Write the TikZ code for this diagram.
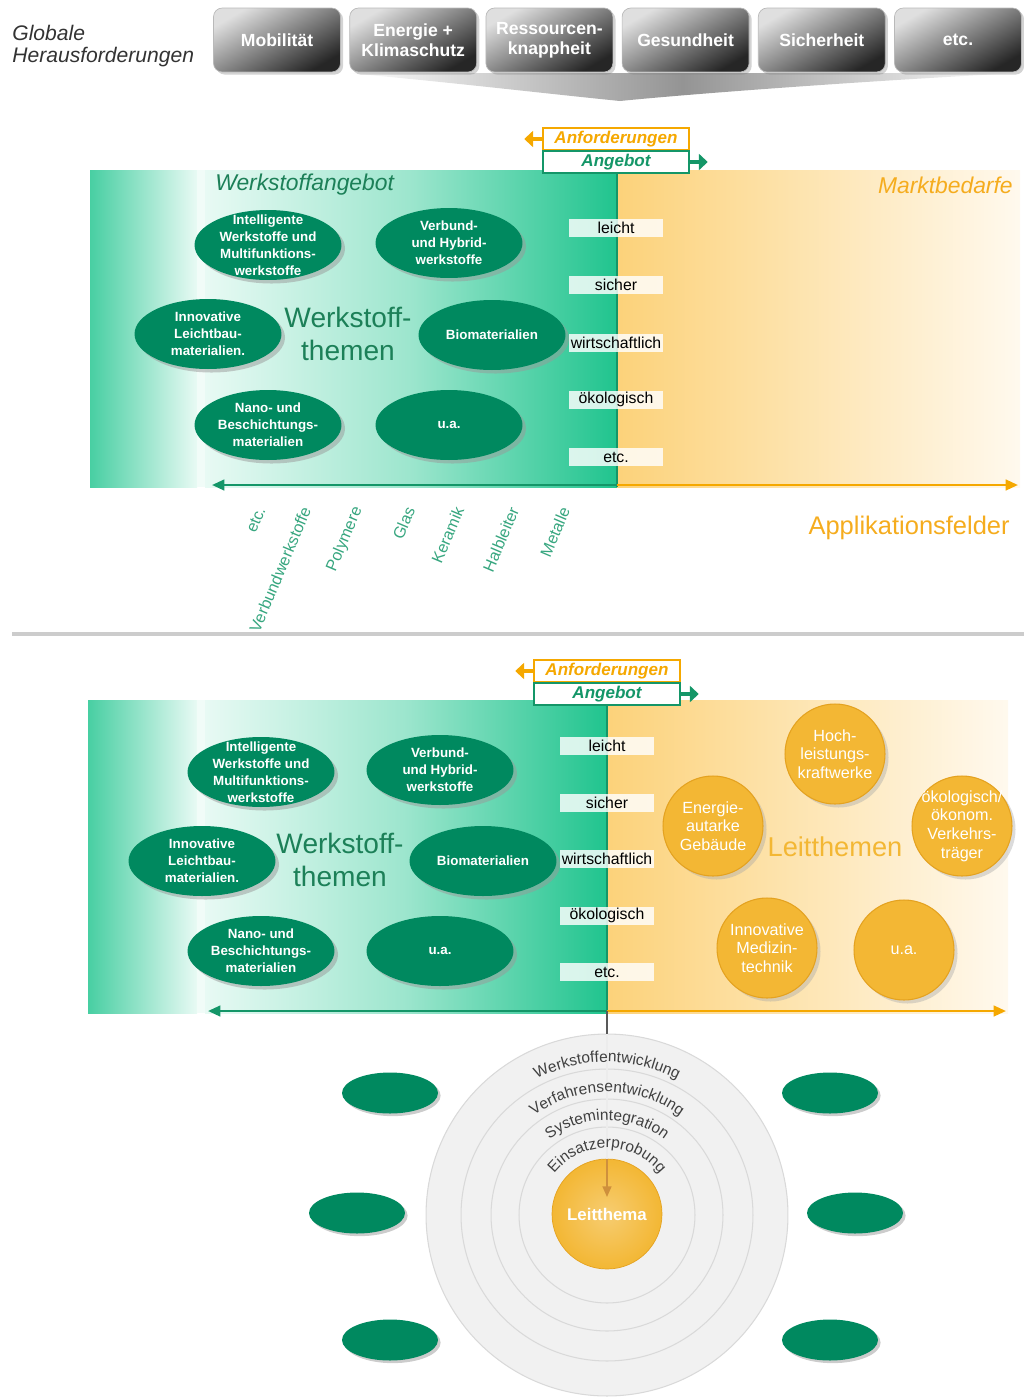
\documentclass[tikz,border=0pt]{standalone}
\usepackage{fontspec}
\setmainfont{Liberation Sans}
\usetikzlibrary{shapes.geometric,shadows,arrows.meta,decorations.text,positioning}

\definecolor{wsgreen}{RGB}{32,196,142}
\definecolor{wslight}{RGB}{232,250,244}
\definecolor{ellgreen}{RGB}{0,137,95}
\definecolor{axgreen}{RGB}{20,150,104}
\definecolor{txtgreen}{RGB}{28,128,88}
\definecolor{mborange}{RGB}{252,210,122}
\definecolor{mblight}{RGB}{255,249,238}
\definecolor{ltorange}{RGB}{243,183,52}
\definecolor{ltborder}{RGB}{228,162,32}
\definecolor{txtorange}{RGB}{245,172,30}
\definecolor{arrorange}{RGB}{245,168,0}

\newcommand{\fsz}[2]{\fontsize{#1}{#2}\selectfont}

\begin{document}
\begin{tikzpicture}[x=0.02cm, y=-0.02cm, >/.tip={Triangle[length=7pt, width=6pt]},
	challenge/.style={rounded corners=5pt, draw=gray!55, top color=gray!25, bottom color=black!85, shading angle=30, minimum width=2.54cm, minimum height=1.28cm, inner sep=1pt, text=white, align=center, font=\fsz{10}{11.5}\bfseries, drop shadow={shadow xshift=1.5pt, shadow yshift=-1.5pt, opacity=.35}},
	wsell/.style={ellipse, fill=ellgreen, minimum width=2.94cm, minimum height=1.4cm, inner sep=0, drop shadow={shadow xshift=2pt, shadow yshift=-2pt, fill=black!40, opacity=.5}},
	wstext/.style={text=white, align=center, font=\fsz{7.6}{9.6}\bfseries},
	smallell/.style={ellipse, fill=ellgreen, minimum width=1.92cm, minimum height=0.82cm, inner sep=0, drop shadow={shadow xshift=1.5pt, shadow yshift=-1.5pt, fill=black!40, opacity=.5}},
	crit/.style={fill=white, fill opacity=.82, text opacity=1, minimum width=1.88cm, minimum height=0.36cm, inner sep=0, font=\fsz{9}{10}},
	anfbox/.style={draw=arrorange, fill=white, line width=0.9pt, minimum width=2.92cm, minimum height=0.44cm, inner sep=0, text=arrorange, font=\fsz{9.7}{11}\bfseries\itshape},
	angbox/.style={anfbox, draw=axgreen, text=axgreen},
	leit/.style={circle, fill=ltorange, draw=ltborder, line width=0.6pt, minimum size=2cm, inner sep=0, drop shadow={shadow xshift=2pt, shadow yshift=-2pt, fill=black!35, opacity=.4}},
	leittext/.style={text=white, align=center, font=\fsz{9.2}{10.6}},
	ring/.style={circle, draw=gray!30, line width=0.6pt, fill=gray!11, inner sep=0},
	matlabel/.style={rotate=67, anchor=east, inner sep=1pt, text=axgreen!85!white, font=\fsz{9.2}{10}},
	themen/.style={align=center, text=txtgreen, font=\fsz{16}{19}},
	thickarrow/.style={line width=2.6pt, -{Triangle[length=5pt, width=9pt]}},
	axisarrow/.style={line width=1.4pt, ->},
	ringtext/.style={decorate, decoration={text along path, text align=center, text color=black!75}}
]
\useasboundingbox (0,0) rectangle (1024,1400);

\draw (12,46) node (gh) [anchor=west, inner sep=0, align=left, text=black!80, font=\fsz{12}{12.5}\itshape] {Globale\\Herausforderungen};
\shade[left color=white, right color=white, middle color=black!42] (345,73) -- (1020,73) .. controls (880,80) and (700,93) .. (620,101) .. controls (540,93) and (430,80) .. (345,73) -- cycle;
\foreach \t [count=\i] in {Mobilität, {Energie +\\Klimaschutz}, {Ressourcen-\\knappheit}, Gesundheit, Sicherheit, etc.}
	\draw ({277+136.2*(\i-1)},40) node (ch\i) [challenge] {\t};

\fill[left color=wsgreen!80!wslight, right color=wslight] (90,170) rectangle (197,487);
\fill[wslight!60!white] (197,170) rectangle (205,487);
\fill[left color=wslight, right color=wsgreen, middle color=wsgreen!38!wslight] (205,170) rectangle (617,487);
\fill[left color=mborange, right color=mblight] (617,170) rectangle (1020,487);
\draw[axgreen, line width=1.2pt] (617,170) -- (617,487);

\draw (616,139) node (anf1) [anfbox] {Anforderungen};
\draw (616,162) node (ang1) [angbox] {Angebot};
\coordinate[left=0.36cm of anf1.west] (anf1tip);
\coordinate[right=0.36cm of ang1.east] (ang1tip);
\draw[thickarrow, arrorange] (anf1.west) -- (anf1tip);
\draw[thickarrow, axgreen] (ang1.east) -- (ang1tip);

\draw (215,185) node (wa1) [anchor=west, inner sep=0, text=txtgreen, font=\fsz{13}{15}\itshape] {Werkstoffangebot};
\draw (1013,185) node (mb1) [anchor=east, inner sep=0, text=txtorange, font=\fsz{13}{15}\itshape] {Marktbedarfe};
\foreach \n/\x/\y/\t in {a/268/245/{Intelligente\\Werkstoffe und\\Multifunktions-\\werkstoffe}, b/449/243/{Verbund-\\und Hybrid-\\werkstoffe}, c/208/334/{Innovative\\Leichtbau-\\materialien.}, d/492/335/{Biomaterialien}, e/268/425/{Nano- und\\Beschichtungs-\\materialien}, f/449/425/{u.a.}}
	\draw (\x,\y) node (w1\n) [wsell, label={[wstext]center:\t}] {};
\draw (348,334) node (th1) [themen] {Werkstoff-\\themen};
\foreach \c [count=\i] in {leicht, sicher, wirtschaftlich, ökologisch, etc.}
	\draw (616,{228+57.25*(\i-1)}) node (k1\i) [crit] {\c};

\coordinate (ax1) at (617,485);
\coordinate (ax1l) at (212,485);
\coordinate (ax1r) at (1018,485);
\draw[axisarrow, axgreen] (ax1) -- (ax1l);
\draw[axisarrow, arrorange] (ax1) -- (ax1r);
\foreach \m/\x [count=\i] in {etc./262, Verbundwerkstoffe/307, Polymere/359, Glas/411, Keramik/460, Halbleiter/515, Metalle/566}
	\draw (\x,506) node (mat\i) [matlabel] {\m};
\draw (1010,528) node (appl) [anchor=east, inner sep=0, text=txtorange, font=\fsz{14.5}{16}] {Applikationsfelder};

\draw[gray!40, line width=2.2pt] (12,634) -- (1024,634);

\fill[left color=wsgreen!80!wslight, right color=wslight] (88,700) rectangle (197,1013);
\fill[wslight!60!white] (197,700) rectangle (205,1013);
\fill[left color=wslight, right color=wsgreen, middle color=wsgreen!38!wslight] (205,700) rectangle (607,1013);
\fill[left color=mborange, right color=mblight] (607,700) rectangle (1008,1013);
\draw[axgreen, line width=1.2pt] (607,700) -- (607,1013);

\draw (607,671) node (anf2) [anfbox] {Anforderungen};
\draw (607,694) node (ang2) [angbox] {Angebot};
\coordinate[left=0.36cm of anf2.west] (anf2tip);
\coordinate[right=0.36cm of ang2.east] (ang2tip);
\draw[thickarrow, arrorange] (anf2.west) -- (anf2tip);
\draw[thickarrow, axgreen] (ang2.east) -- (ang2tip);

\foreach \n/\x/\y/\t in {a/261/772/{Intelligente\\Werkstoffe und\\Multifunktions-\\werkstoffe}, b/440/770/{Verbund-\\und Hybrid-\\werkstoffe}, c/202/861/{Innovative\\Leichtbau-\\materialien.}, d/483/861/{Biomaterialien}, e/261/951/{Nano- und\\Beschichtungs-\\materialien}, f/440/951/{u.a.}}
	\draw (\x,\y) node (w2\n) [wsell, label={[wstext]center:\t}] {};
\draw (340,860) node (th2) [themen] {Werkstoff-\\themen};
\foreach \c [count=\i] in {leicht, sicher, wirtschaftlich, ökologisch, etc.}
	\draw (607,{746+56.5*(\i-1)}) node (k2\i) [crit] {\c};

\foreach \n/\x/\y/\t in {1/835/754/{Hoch-\\leistungs-\\kraftwerke}, 2/713/826/{Energie-\\autarke\\Gebäude}, 3/962/826/{ökologisch/\\ökonom.\\Verkehrs-\\träger}, 4/767/948/{Innovative\\Medizin-\\technik}, 5/904/950/{u.a.}}
	\draw (\x,\y) node (lt\n) [leit, label={[leittext]center:\t}] {};
\draw (835,847) node (leitthemen) [text=ltorange, font=\fsz{15.5}{17}] {Leitthemen};

\coordinate (ax2) at (607,1011);
\coordinate (ax2l) at (208,1011);
\coordinate (ax2r) at (1006,1011);
\draw[axisarrow, axgreen] (ax2) -- (ax2l);
\draw[axisarrow, arrorange] (ax2) -- (ax2r);

\coordinate (ctr) at (607,1215);
\draw (ctr) node (r1) [ring, minimum size=7.24cm] {};
\draw (ctr) node (r2) [ring, minimum size=5.84cm] {};
\draw (ctr) node (r3) [ring, minimum size=4.64cm] {};
\draw (ctr) node (r4) [ring, minimum size=3.52cm] {};
\draw (607,1214) node (lt) [circle, draw=ltborder, inner color=ltorange!70!white, outer color=ltorange, minimum size=2.2cm, text=white, font=\fsz{9.6}{11}\bfseries] {Leitthema};

\coordinate (ltarrow) at (607,1197);
\draw[black!65, line width=1.4pt] (ax2) -- (r1.north);
\draw[white!85!gray, line width=1pt] (r1.north) -- (lt.north);
\draw[brown!70!ltorange, line width=1pt, -{Triangle[length=6pt, width=5pt]}] (lt.north) -- (ltarrow);

\path[ringtext, decoration={text={|\fsz{8.8}{10}|Werkstoffentwicklung}}] ([shift={(160:3.06cm)}]ctr) arc[start angle=160, end angle=20, radius=3.06cm];
\path[ringtext, decoration={text={|\fsz{8.8}{10}|Verfahrensentwicklung}}] ([shift={(160:2.46cm)}]ctr) arc[start angle=160, end angle=20, radius=2.46cm];
\path[ringtext, decoration={text={|\fsz{8.8}{10}|Systemintegration}}] ([shift={(165:1.9cm)}]ctr) arc[start angle=165, end angle=15, radius=1.9cm];
\path[ringtext, decoration={text={|\fsz{8.8}{10}|Einsatzerprobung}}] ([shift={(170:1.34cm)}]ctr) arc[start angle=170, end angle=10, radius=1.34cm];

\foreach \n/\x/\y in {1/390/1093, 2/357/1213, 3/390/1340, 4/830/1093, 5/855/1213, 6/830/1340}
	\draw (\x,\y) node (s\n) [smallell] {};
\end{tikzpicture}
\end{document}
